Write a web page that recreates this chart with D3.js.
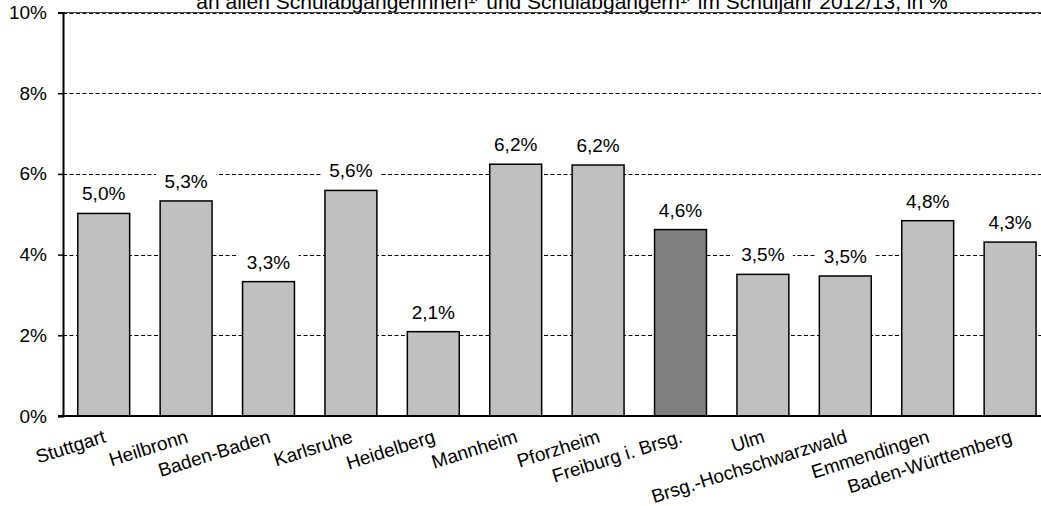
<!DOCTYPE html>
<html>
<head>
<meta charset="utf-8">
<script src="https://cdn.jsdelivr.net/npm/d3@7"></script>
<style>
  html, body { margin: 0; padding: 0; background: #fff; }
  svg { display: block; font-family: "Liberation Sans", Arial, sans-serif; }
</style>
</head>
<body>
<svg id="chart" width="1041" height="506"></svg>
<script>
const categories = ["Stuttgart", "Heilbronn", "Baden-Baden", "Karlsruhe", "Heidelberg", "Mannheim",
  "Pforzheim", "Freiburg i. Brsg.", "Ulm", "Brsg.-Hochschwarzwald", "Emmendingen", "Baden-Württemberg"];
const values = [5.02, 5.33, 3.33, 5.59, 2.09, 6.24, 6.22, 4.62, 3.51, 3.47, 4.84, 4.31];
const highlighted = ["Freiburg i. Brsg."];
const yTicks = [0, 2, 4, 6, 8, 10];
const titleText = "an allen Schulabgängerinnen¹⁾ und Schulabgängern¹⁾ im Schuljahr 2012/13,  in %";

const svg = d3.select("#chart");
const x = d3.scaleBand().domain(categories).range([62.5, 1051.3]).paddingInner(0.37).paddingOuter(0.185);
const y = d3.scaleLinear().domain([0, 10]).range([416, 12.5]);
const fmt = v => d3.format(".1f")(v).replace(".", ",") + "%";

// title (clipped at top, as in the reference)
svg.append("text").attr("x", 572).attr("y", 8.5).attr("text-anchor", "middle")
  .attr("font-size", 21).attr("fill", "#000").text(titleText);

// gridlines
const grid = svg.append("g");
grid.selectAll("line").data(yTicks.filter(d => d > 0)).join("line")
  .attr("x1", 63).attr("x2", 1041)
  .attr("y1", d => Math.round(y(d)) + 0.5).attr("y2", d => Math.round(y(d)) + 0.5)
  .attr("stroke", "#000").attr("stroke-width", 1).attr("stroke-dasharray", "4,2.5");
svg.append("line").attr("x1", 63).attr("x2", 1041)
  .attr("y1", Math.round(y(10)) - 0.5).attr("y2", Math.round(y(10)) - 0.5)
  .attr("stroke", "#444").attr("stroke-width", 1);

// y axis
const yAxis = d3.axisLeft(y).tickValues(yTicks).tickSize(5).tickPadding(11).tickFormat(d => d + "%");
const ya = svg.append("g").attr("transform", "translate(63,0)").call(yAxis);
ya.select(".domain").attr("stroke", "#000").attr("stroke-width", 2);
ya.selectAll(".tick line").attr("stroke", "#000").attr("stroke-width", 1.5);
ya.selectAll(".tick text").attr("font-size", 19).attr("fill", "#000")
  .attr("font-family", "Liberation Sans, Arial, sans-serif");

// value labels with white boxes
const lbl = svg.append("g");
categories.forEach((c, i) => {
  const cx = x(c) + x.bandwidth() / 2;
  const by = y(values[i]) - 13;
  lbl.append("rect").attr("x", cx - 30).attr("y", by - 18).attr("width", 60).attr("height", 23)
    .attr("fill", "#fff");
  lbl.append("text").attr("x", cx).attr("y", by).attr("text-anchor", "middle")
    .attr("font-size", 19).attr("fill", "#000").text(fmt(values[i]));
});

// bars
svg.append("g").selectAll("rect").data(categories).join("rect")
  .attr("x", d => x(d)).attr("width", x.bandwidth())
  .attr("y", (d, i) => y(values[i])).attr("height", (d, i) => y(0) - y(values[i]))
  .attr("fill", d => highlighted.includes(d) ? "#808080" : "#C0C0C0")
  .attr("stroke", "#000").attr("stroke-width", 1.5);

// x axis
svg.append("line").attr("x1", 58).attr("x2", 1041).attr("y1", y(0)).attr("y2", y(0))
  .attr("stroke", "#000").attr("stroke-width", 2);

// x labels rotated
svg.append("g").selectAll("text").data(categories).join("text")
  .attr("transform", d => `translate(${x(d) + x.bandwidth() / 2 + 3},442) rotate(-17.5)`)
  .attr("text-anchor", "end").attr("font-size", 19).attr("fill", "#000").text(d => d);
</script>
</body>
</html>
